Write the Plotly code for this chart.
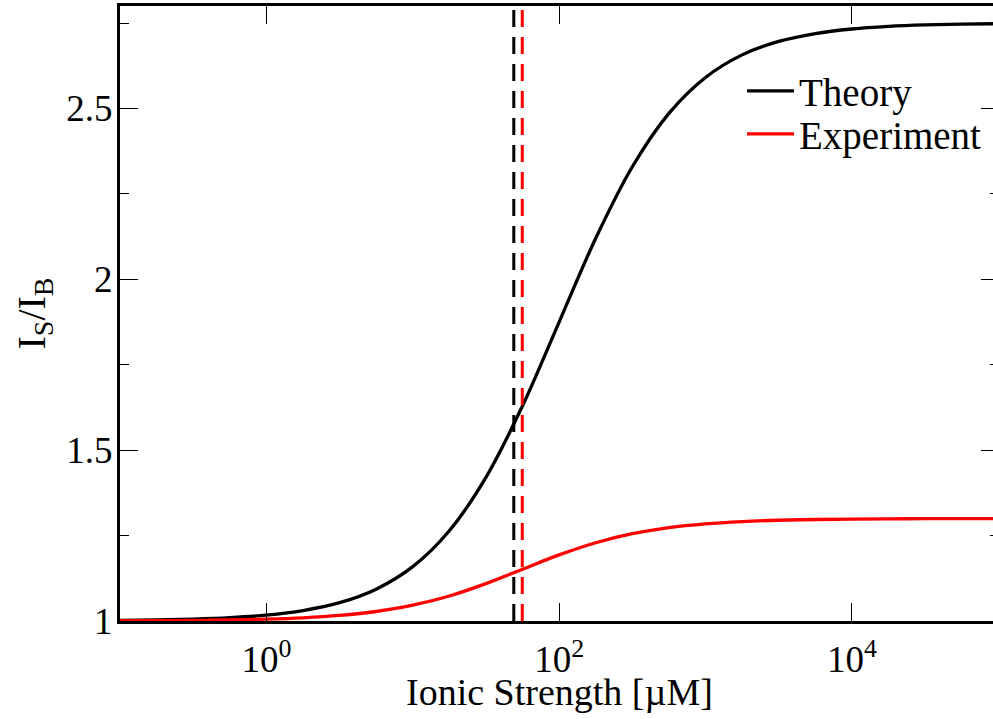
import plotly.graph_objects as go

# Ionic strength samples (µM), quarter-decade spacing, and the two response curves I_S/I_B
ionic_uM = [0.1, 0.1778, 0.3162, 0.5623, 1, 1.778, 3.162, 5.623, 10, 17.78,
            31.62, 56.23, 100, 177.8, 316.2, 562.3, 1000, 1778, 3162, 5623,
            10000, 17783, 31623, 56234, 100000]
theory = [1.0017, 1.0031, 1.0055, 1.0098, 1.0173, 1.0306, 1.0536, 1.0932,
          1.1591, 1.2642, 1.4204, 1.6299, 1.8750, 2.1201, 2.3295, 2.4858,
          2.5909, 2.6569, 2.6963, 2.7194, 2.7327, 2.7402, 2.7445, 2.7469,
          2.7483]
experiment = [1.0005, 1.0010, 1.0017, 1.0030, 1.0054, 1.0094, 1.0163, 1.0278,
              1.0462, 1.0733, 1.1095, 1.1517, 1.1935, 1.2291, 1.2555, 1.2733,
              1.2844, 1.2910, 1.2949, 1.2971, 1.2984, 1.2991, 1.2995, 1.2997,
              1.2998]

# Half-saturation markers (µM)
half_theory = 49
half_experiment = 56

# Axis ticks
x_tickvals = [1, 100, 10000]
x_ticktext = ["10<sup>0</sup>", "10<sup>2</sup>", "10<sup>4</sup>"]
y_tickvals = [1, 1.5, 2, 2.5]
y_ticktext = ["1", "1.5", "2", "2.5"]
y_range = [1, 2.8]

FONT = "Liberation Serif"
FS = 37

fig = go.Figure()

fig.add_trace(go.Scatter(
    x=ionic_uM, y=theory, mode="lines", name="Theory", legend="legend",
    line=dict(color="black", width=3.3, shape="spline", smoothing=1),
))
fig.add_trace(go.Scatter(
    x=ionic_uM, y=experiment, mode="lines", name="Experiment", legend="legend2",
    line=dict(color="#ff0000", width=3.3, shape="spline", smoothing=1),
))

# Dashed vertical markers spanning the full y range
fig.add_trace(go.Scatter(
    x=[half_theory, half_theory], y=y_range, mode="lines", showlegend=False,
    line=dict(color="black", width=3, dash="17px,10px"), yaxis="y2",
))
fig.add_trace(go.Scatter(
    x=[half_experiment, half_experiment], y=y_range, mode="lines", showlegend=False,
    line=dict(color="#ff0000", width=3, dash="17px,10px"), yaxis="y2",
))

legend_style = dict(
    xanchor="left", yanchor="top", bgcolor="rgba(0,0,0,0)", itemwidth=47,
    font=dict(family=FONT, size=39, color="black"),
)

fig.update_layout(
    width=993, height=719,
    margin=dict(l=120, r=0, t=6, b=98),
    paper_bgcolor="white", plot_bgcolor="white",
    font=dict(family=FONT, size=FS, color="black"),
    showlegend=True,
    legend=dict(x=0.7125, y=0.9138, **legend_style),
    legend2=dict(x=0.7125, y=0.8439, **legend_style),
    xaxis=dict(
        type="log", range=[-1, 4.964],
        tickvals=x_tickvals, ticktext=x_ticktext,
        ticks="inside", ticklen=18, tickwidth=1.3, tickcolor="black",
        showline=True, linewidth=3, linecolor="black", mirror="ticks",
        showgrid=False, zeroline=False,
        tickfont=dict(family=FONT, size=FS),
        ticklabelstandoff=4,
    ),
    yaxis=dict(
        range=y_range,
        tickvals=y_tickvals, ticktext=y_ticktext,
        ticks="inside", ticklen=18, tickwidth=1.3, tickcolor="black",
        minor=dict(dtick=0.25, tick0=1, ticks="inside", ticklen=9,
                   tickwidth=1.3, tickcolor="black", showgrid=False),
        showline=True, linewidth=3, linecolor="black",
        showgrid=False, zeroline=False,
        title=dict(text="I<sub>S</sub>/I<sub>B</sub>", standoff=9,
                   font=dict(family=FONT, size=40)),
        tickfont=dict(family=FONT, size=FS),
        ticklabelstandoff=-3,
    ),
    yaxis2=dict(
        range=y_range, overlaying="y", side="right", anchor="x",
        tickvals=y_tickvals, showticklabels=False,
        ticks="inside", ticklen=12, tickwidth=1.3, tickcolor="black",
        minor=dict(dtick=0.25, tick0=1, ticks="inside", ticklen=3,
                   tickwidth=1.3, tickcolor="black", showgrid=False),
        showline=False, showgrid=False, zeroline=False,
    ),
    annotations=[dict(
        text="Ionic Strength [µM]", xref="paper", yref="paper",
        x=0.504, y=-0.115, xanchor="center", yanchor="middle",
        showarrow=False, font=dict(family=FONT, size=38, color="black"),
    )],
)

fig.write_html("out.html")
